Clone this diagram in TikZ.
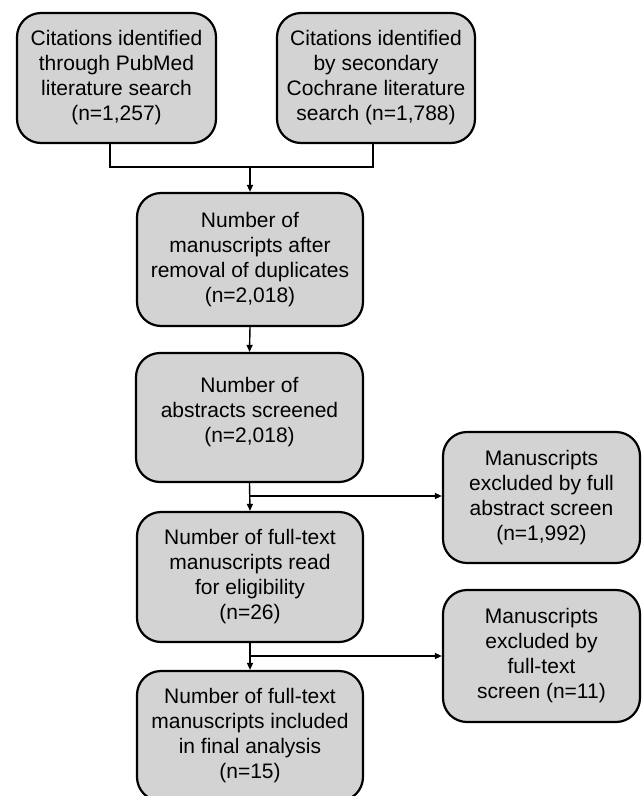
\documentclass[tikz,border=0pt]{standalone}
\usepackage{fontspec}
\setmainfont{Liberation Sans}
\usetikzlibrary{arrows.meta,calc}
\definecolor{boxfill}{RGB}{211,211,211}
\begin{document}
\begin{tikzpicture}[x=1pt,y=-1pt,
  box/.style={draw=black,line width=2.2pt,fill=boxfill,rounded corners=24pt,
    align=center,inner sep=0pt,font=\fontsize{21}{25}\selectfont},
  conn/.style={line width=1.4pt},
  arr/.style={conn,-{Triangle[length=7pt,width=6pt]}}]
\useasboundingbox (0,0) rectangle (641,796);
\clip (0,0) rectangle (641,796);
\node[box,minimum width=199pt,minimum height=130pt] (b1) at (116.5,78)
  {Citations identified\\through PubMed\\literature search\\(n=1,257)};
\node[box,minimum width=198pt,minimum height=130pt] (b2) at (376,78)
  {Citations identified\\by secondary\\Cochrane literature\\search (n=1,788)};
\node[box,minimum width=226pt,minimum height=133pt] (b3) at (250,259.5)
  {Number of\\manuscripts after\\removal of duplicates\\(n=2,018)};
\node[box,minimum width=227pt,minimum height=129pt] (b4) at (249.5,417.5)
  {\\Number of\\abstracts screened\\(n=2,018)\\};
\node[box,minimum width=226pt,minimum height=130pt] (b5) at (250,577)
  {Number of full-text\\manuscripts read\\for eligibility\\(n=26)};
\node[box,minimum width=197pt,minimum height=131pt] (b6) at (541.5,497.5)
  {Manuscripts\\excluded by full\\abstract screen\\(n=1,992)};
\node[box,minimum width=197pt,minimum height=132pt] (b8) at (541.5,656)
  {Manuscripts\\excluded by\\full-text\\screen (n=11)};
\node[box,minimum width=226pt,minimum height=130pt] (b7) at (250,736)
  {Number of full-text\\manuscripts included\\in final analysis\\(n=15)};
\coordinate (j1) at (250,167);
\coordinate (j2) at (250,496);
\coordinate (j3) at (250,656);
\draw[conn] ([xshift=-6.5pt]b1.south) |- (j1) -| ([xshift=-3pt]b2.south);
\draw[arr] (j1) -- (b3.north);
\draw[arr] (b3.south) -- (b4.north);
\draw[arr] (b4.south) -- (b5.north);
\draw[arr] (j2) -- (b6.west |- j2);
\draw[arr] (b5.south) -- (b7.north);
\draw[arr] (j3) -- (b8.west |- j3);
\end{tikzpicture}
\end{document}
